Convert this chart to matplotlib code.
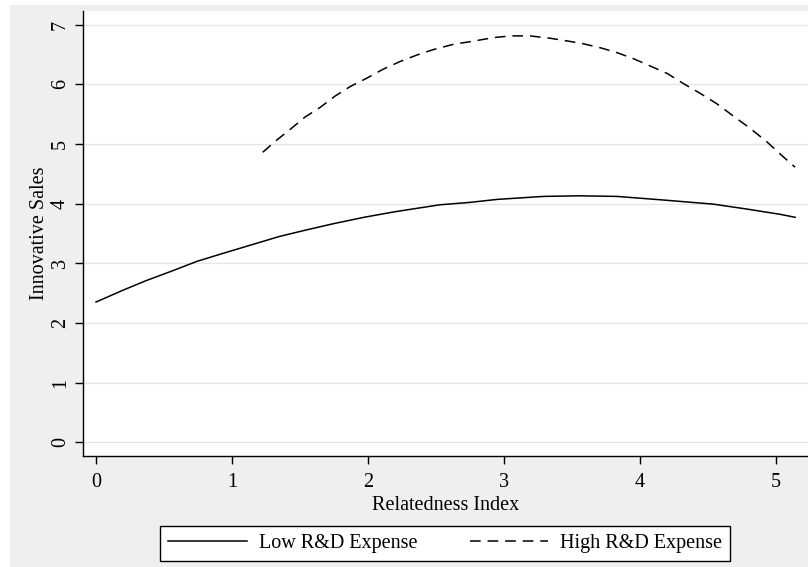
import matplotlib
matplotlib.use('Agg')
import matplotlib.pyplot as plt
from matplotlib.patches import Rectangle

plt.rcParams['font.family'] = ['Liberation Serif', 'DejaVu Serif']

# Low R&D Expense (solid)
low_x = [0.0, 0.20, 0.37, 0.57, 0.74, 0.94, 1.16, 1.35, 1.55, 1.74, 1.97, 2.19, 2.33,
         2.53, 2.75, 2.95, 3.29, 3.55, 3.83, 4.17, 4.54, 4.78, 5.03, 5.14]
low_y = [2.35, 2.55, 2.71, 2.88, 3.03, 3.17, 3.32, 3.45, 3.56, 3.66, 3.77, 3.86, 3.91,
         3.98, 4.02, 4.07, 4.12, 4.13, 4.12, 4.06, 3.99, 3.91, 3.82, 3.77]

# High R&D Expense (dashed)
high_x = [1.226, 1.316, 1.426, 1.537, 1.647, 1.757, 1.868, 1.99, 2.11, 2.235, 2.36, 2.48,
          2.63, 2.77, 2.92, 3.05, 3.19, 3.34, 3.56, 3.71, 3.83, 3.95, 4.07, 4.20, 4.32,
          4.44, 4.56, 4.69, 4.81, 4.93, 5.05, 5.14]
high_y = [4.86, 5.04, 5.24, 5.45, 5.61, 5.80, 5.96, 6.10, 6.25, 6.38, 6.49, 6.58,
          6.67, 6.72, 6.78, 6.81, 6.81, 6.77, 6.69, 6.61, 6.53, 6.43, 6.31, 6.18, 6.01,
          5.85, 5.68, 5.46, 5.26, 5.04, 4.79, 4.61]

x_ticks = [0, 1, 2, 3, 4, 5]
y_ticks = [0, 1, 2, 3, 4, 5, 6, 7]

W, H = 808, 567
fig = plt.figure(figsize=(W / 100, H / 100), dpi=100, facecolor='white')
# gray graph region (Stata style), kept under the axes
bg = Rectangle((10 / W, 0), 1 - 10 / W, 1 - 5 / H, transform=fig.transFigure,
               facecolor='#efefef', edgecolor='none', zorder=-10)
fig.add_artist(bg)

ax = fig.add_axes([83 / W, 1 - 455.7 / H, 1 - 83 / W, (455.7 - 11) / H])
ax.set_facecolor('white')
ax.set_zorder(1)

ax.plot(low_x, low_y, color='black', lw=1.1, label='Low R&D Expense')
ax.plot(high_x, high_y, color='black', lw=1.1, ls=(0, (7, 4.5)), label='High R&D Expense')

ax.set_xlim(-0.0956, 5.235)
ax.set_ylim(-0.225, 7.227)
ax.set_xticks(x_ticks)
ax.set_yticks(y_ticks)
ax.grid(axis='y', color='#e6e6e6', lw=1.0)
ax.set_axisbelow(True)

for s in ['top', 'right']:
    ax.spines[s].set_visible(False)
for s in ['left', 'bottom']:
    ax.spines[s].set_color('black')
    ax.spines[s].set_linewidth(1.0)

ax.tick_params(axis='both', length=5.5, width=1.0, labelsize=14.5, color='black')
ax.tick_params(axis='x', pad=7)
ax.tick_params(axis='y', pad=4)
for lab in ax.get_yticklabels():
    lab.set_rotation(90)
    lab.set_va('center')

ax.set_xlabel('Relatedness Index', fontsize=14.5, labelpad=3)
ax.set_ylabel('Innovative Sales', fontsize=14.5, labelpad=1)

leg = fig.legend(loc='center', bbox_to_anchor=(445.2 / W, 1 - 543.2 / H), ncol=2,
                 fontsize=14.5, frameon=True, fancybox=False, edgecolor='black',
                 handlelength=3.9, handletextpad=0.6, columnspacing=2.6, borderpad=0.4)
leg.get_frame().set_linewidth(1.0)
leg.get_frame().set_facecolor('white')
leg.get_frame().set_alpha(1)
leg.set_zorder(2)

fig.savefig('out.png', dpi=100, facecolor=fig.get_facecolor())
